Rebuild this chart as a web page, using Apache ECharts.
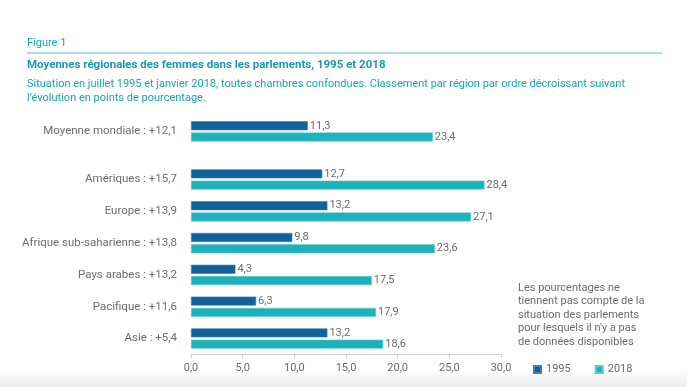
<!DOCTYPE html>
<html><head><meta charset="utf-8">
<script src="https://cdn.jsdelivr.net/npm/echarts@6/dist/echarts.min.js"></script>
<style>html,body{margin:0;padding:0;background:#fff}#c{width:687px;height:387px}</style>
</head><body><div id="c"></div>
<script>
const worldCategory = ['Moyenne mondiale : +12,1'];
const world1995 = [11.3];
const world2018 = [23.4];
const categories = ['Amériques : +15,7','Europe : +13,9','Afrique sub-saharienne : +13,8','Pays arabes : +13,2','Pacifique : +11,6','Asie : +5,4'];
const values1995 = [12.7, 13.2, 9.8, 4.3, 6.3, 13.2];
const values2018 = [28.4, 27.1, 23.6, 17.5, 17.9, 18.6];
const xTicks = [0, 5, 10, 15, 20, 25, 30];

const C1995 = '#12619a', C2018 = '#1db1bb', TEAL = '#1aa3b3', GREY = '#6b6b6b';
const fmt = v => Number(v).toFixed(1).replace('.', ',');
const chart = echarts.init(document.getElementById('c'));
const lbl = {show:true, position:'right', distance:2, color:GREY, fontSize:11, fontFamily:'Roboto', formatter:p=>fmt(p.value)};
const xBase = {type:'value', min:xTicks[0], max:xTicks[xTicks.length-1], interval:5};
chart.setOption({
  animation:false,
  textStyle:{fontFamily:'Roboto'},
  grid:[
    {left:191, right:186, top:115.5, height:31.8},
    {left:191, right:186, top:163.6, height:190.8}
  ],
  xAxis:[
    Object.assign({gridIndex:0, show:false}, xBase),
    Object.assign({gridIndex:1, splitLine:{show:false},
      axisLine:{show:true, lineStyle:{color:'#d0d0d0'}},
      axisTick:{show:true, length:4, lineStyle:{color:'#d0d0d0'}},
      axisLabel:{color:GREY, fontSize:11, margin:8, formatter:v=>fmt(v)}}, xBase)
  ],
  yAxis:[
    {type:'category', gridIndex:0, data:worldCategory, inverse:true, axisLine:{show:false}, axisTick:{show:false},
     axisLabel:{color:GREY, fontSize:11.5, margin:14}},
    {type:'category', gridIndex:1, data:categories, inverse:true, axisLine:{show:false}, axisTick:{show:false},
     axisLabel:{color:GREY, fontSize:11.5, margin:14}}
  ],
  legend:{left:528, top:359, itemWidth:7, itemHeight:7, itemGap:24, icon:'rect',
    textStyle:{color:GREY, fontSize:11}, data:['1995','2018']},
  series:[
    {name:'1995', type:'bar', xAxisIndex:0, yAxisIndex:0, data:world1995, barWidth:9, barGap:'25%', itemStyle:{color:C1995, borderColor:'#3d83b5', borderWidth:0.6}, label:lbl},
    {name:'2018', type:'bar', xAxisIndex:0, yAxisIndex:0, data:world2018, barWidth:9, barGap:'25%', itemStyle:{color:C2018, borderColor:'#5ccbd1', borderWidth:0.6}, label:lbl},
    {name:'1995', type:'bar', xAxisIndex:1, yAxisIndex:1, data:values1995, barWidth:9, barGap:'25%', itemStyle:{color:C1995, borderColor:'#3d83b5', borderWidth:0.6}, label:lbl},
    {name:'2018', type:'bar', xAxisIndex:1, yAxisIndex:1, data:values2018, barWidth:9, barGap:'25%', itemStyle:{color:C2018, borderColor:'#5ccbd1', borderWidth:0.6}, label:lbl}
  ],
  graphic:[
    {type:'rect', left:0, top:368, z:-10, shape:{width:687, height:19},
     style:{fill:new echarts.graphic.LinearGradient(0,0,0,1,[{offset:0,color:'rgba(240,240,240,0)'},{offset:1,color:'#ececec'}])}},
    {type:'text', left:27, top:38, style:{text:'Figure 1', fill:TEAL, font:'11px Roboto'}},
    {type:'line', shape:{x1:27, y1:53, x2:662, y2:53}, style:{stroke:'#5bbcc6', lineWidth:1}},
    {type:'text', left:27, top:59, style:{text:'Moyennes régionales des femmes dans les parlements, 1995 et 2018', fill:'#1a9aab', font:'bold 11.5px Roboto'}},
    {type:'text', left:27, top:77, style:{text:"Situation en juillet 1995 et janvier 2018, toutes chambres confondues. Classement par région par ordre décroissant suivant\nl’évolution en points de pourcentage.", fill:TEAL, font:'11px Roboto', lineHeight:14}},
    {type:'text', left:518, top:281, style:{text:"Les pourcentages ne\ntiennent pas compte de la\nsituation des parlements\npour lesquels il n'y a pas\nde données disponibles", fill:GREY, font:'11px Roboto', lineHeight:13.5}}
  ]
});
</script></body></html>
